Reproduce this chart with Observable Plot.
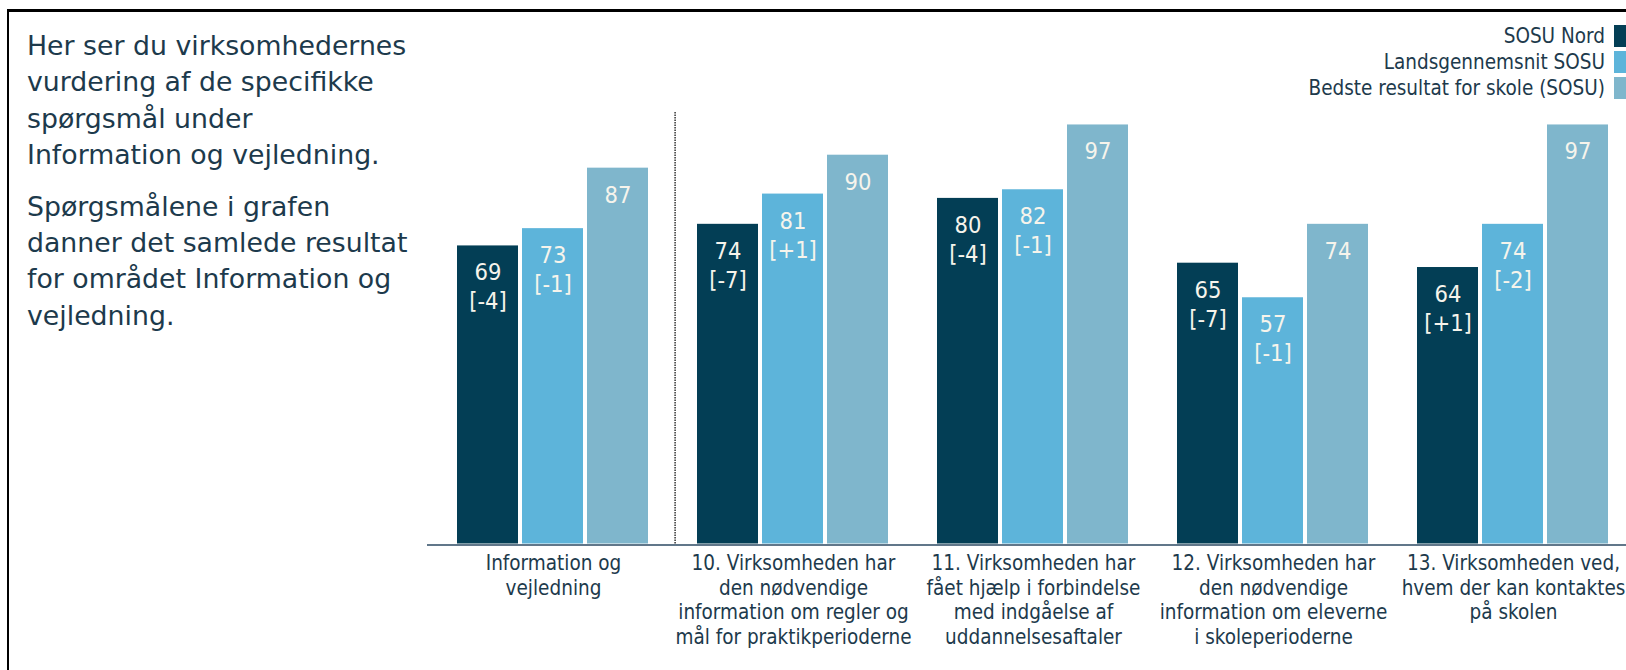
<!DOCTYPE html>
<html>
<head>
<meta charset="utf-8">
<script src="https://cdn.jsdelivr.net/npm/d3@7"></script>
<script src="https://cdn.jsdelivr.net/npm/@observablehq/plot@0.6"></script>
<style>
html, body { margin: 0; padding: 0; background: #fff; width: 1626px; height: 670px; overflow: hidden; }
#wrap { position: relative; width: 1626px; height: 670px; overflow: hidden; }
#frame { position: absolute; left: 7px; top: 9px; width: 1700px; height: 700px;
  border-left: 2.5px solid #000; border-top: 3px solid #000; box-sizing: border-box; }
#intro { position: absolute; left: 27px; top: 28px; font-family: "DejaVu Sans", Verdana, sans-serif;
  font-size: 26.75px; line-height: 36.4px; color: #1d3a4c; }
#intro p { margin: 0 0 15px 0; }
#chart { position: absolute; left: 0; top: 0; }
.cond { font-family: "DejaVu Sans Condensed", "DejaVu Sans", sans-serif; font-stretch: condensed; }
#legend { position: absolute; left: 0; top: 0; width: 1626px; height: 110px; }
.lg-text { position: absolute; right: 21px; height: 26px; line-height: 26px; font-size: 20.5px; color: #1d3a4c; white-space: nowrap; }
.lg-sw { position: absolute; left: 1614px; width: 16px; height: 22px; }
svg text { font-stretch: condensed; }
</style>
</head>
<body>
<div id="wrap">
  <div id="frame"></div>
  <div id="intro">
    <p>Her ser du virksomhedernes<br>vurdering af de specifikke<br>spørgsmål under<br>Information og vejledning.</p>
    <p>Spørgsmålene i grafen<br>danner det samlede resultat<br>for området Information og<br>vejledning.</p>
  </div>
  <div id="chart"></div>
  <div id="legend" class="cond"></div>
</div>
<script>
// ---- data ----
const categories = [
  "Information og\nvejledning",
  "10. Virksomheden har\nden nødvendige\ninformation om regler og\nmål for praktikperioderne",
  "11. Virksomheden har\nfået hjælp i forbindelse\nmed indgåelse af\nuddannelsesaftaler",
  "12. Virksomheden har\nden nødvendige\ninformation om eleverne\ni skoleperioderne",
  "13. Virksomheden ved,\nhvem der kan kontaktes\npå skolen"
];
const series = ["SOSU Nord", "Landsgennemsnit SOSU", "Bedste resultat for skole (SOSU)"];
const colors = ["#033e55", "#5db4da", "#7fb6cc"];
const sosuNord = [69, 74, 80, 65, 64];
const landsgennemsnit = [73, 81, 82, 57, 74];
const bedste = [87, 90, 97, 74, 97];
const sosuNordChange = ["[-4]", "[-7]", "[-4]", "[-7]", "[+1]"];
const landsgennemsnitChange = ["[-1]", "[+1]", "[-1]", "[-1]", "[-2]"];

const valueSets = [sosuNord, landsgennemsnit, bedste];
const changeSets = [sosuNordChange, landsgennemsnitChange, null];
const rows = [];
categories.forEach((c, i) => {
  series.forEach((s, j) => {
    rows.push({category: c, series: s, value: valueSets[j][i], change: changeSets[j] ? changeSets[j][i] : null});
  });
});

// ---- layout ----
const W = 1626, H = 670;
const frameLeft = 431, frameRight = 1635, yTop = 111.5, yBase = 543.5;
const fxStep = (frameRight - frameLeft) / categories.length;
const textColor = "#1d3a4c";
const labelColor = "#f6f4ec";
const fontCond = "'DejaVu Sans Condensed', 'DejaVu Sans', sans-serif";

const chart = Plot.plot({
  width: W,
  height: H,
  marginLeft: frameLeft,
  marginRight: W - frameRight,
  marginTop: yTop,
  marginBottom: H - yBase,
  style: {background: "transparent", fontFamily: fontCond},
  fx: {domain: categories, padding: 0, axis: null},
  x: {domain: series, paddingInner: 0.056, paddingOuter: 0.365, axis: null},
  y: {domain: [0, 100], axis: null},
  color: {domain: series, range: colors},
  marks: [
    Plot.barY(rows, {fx: "category", x: "series", y: "value", fill: "series"}),
    Plot.ruleY([0], {stroke: "#61778a", strokeWidth: 2, dy: 1, insetLeft: -6}),
    Plot.ruleX([categories[1]], {fx: d => d, x: null, y1: 0, y2: 100, dx: -fxStep / 2 + 2,
      stroke: "#333", strokeWidth: 1.5, strokeDasharray: "1.5,1"}),
    Plot.text(rows, {fx: "category", x: "series", y: "value", text: d => String(d.value),
      dy: 27, fill: labelColor, fontSize: 23.5}),
    Plot.text(rows.filter(d => d.change), {fx: "category", x: "series", y: "value", text: "change",
      dy: 56, fill: labelColor, fontSize: 23.5}),
    Plot.text(categories, {fx: d => d, text: d => d, frameAnchor: "bottom", lineAnchor: "top",
      dy: 8.5, lineHeight: 1.2, fontSize: 20.5, fill: textColor})
  ]
});
document.getElementById("chart").appendChild(chart);

// ---- legend ----
const legend = document.getElementById("legend");
const rowCenters = [36, 62, 88];
series.forEach((s, j) => {
  const t = document.createElement("div");
  t.className = "lg-text";
  t.style.top = (rowCenters[j] - 13) + "px";
  t.textContent = s;
  legend.appendChild(t);
  const sw = document.createElement("div");
  sw.className = "lg-sw";
  sw.style.top = (rowCenters[j] - 11) + "px";
  sw.style.background = colors[j];
  legend.appendChild(sw);
});
</script>
</body>
</html>
